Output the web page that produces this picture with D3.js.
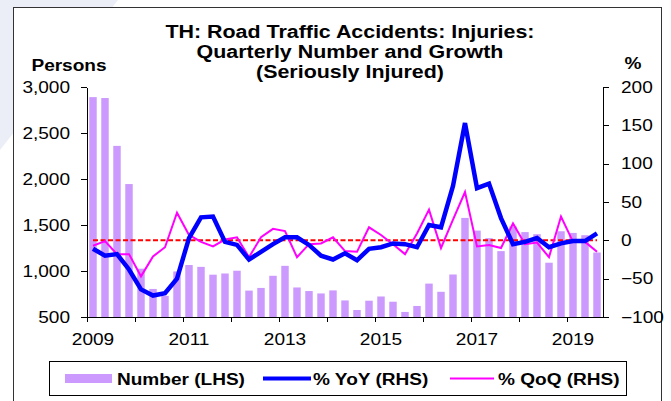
<!DOCTYPE html>
<html lang="en">
  <head>
    <meta charset="UTF-8" />
    <title>TH: Road Traffic Accidents: Injuries</title>
    <script src="https://cdnjs.cloudflare.com/ajax/libs/d3/7.8.5/d3.min.js"></script>
    <style>
      body {
        margin: 0;
        background: #fff;
      }
      svg text {
        font-family: "Liberation Sans", Arial, sans-serif;
        fill: #000;
      }
      .axis path,
      .axis line {
        stroke: #000;
        shape-rendering: crispEdges;
      }
    </style>
  </head>
  <body>
    <div id="chart"></div>
    <script>
      // Quarters 2009Q1 .. 2019Q3
      const quarters = [];
      for (let y = 2009; y <= 2019; y++) {
        for (let q = 1; q <= 4; q++) {
          if (y === 2019 && q === 4) break;
          quarters.push(y + "Q" + q);
        }
      }

      // Number of seriously injured persons (LHS)
      const numberLHS = [
        2890, 2880, 2360, 1945, 1025, 805, 730, 995, 1065, 1045, 960, 973,
        1003, 787, 816, 948, 1056, 821, 782, 756, 789, 680, 576, 677, 723, 666,
        555, 620, 863, 774, 962, 1577, 1439, 1357, 1216, 1485, 1423, 1400,
        1090, 1432, 1414, 1389, 1201,
      ];

      // % YoY (RHS)
      const yoyRHS = [
        -11, -20, -18, -38, -64, -72, -69, -50, 3, 30, 31, -2, -6, -25, -15,
        -5, 4, 4, -6, -20, -25, -17, -26, -11, -9, -4, -5, -9, 20, 17, 71, 153,
        68, 74, 29, -5, -2, 3, -9, -4, -1, -1, 9,
      ];

      // % QoQ (RHS)
      const qoqRHS = [
        -7, -1, -18, -18, -47, -21, -9, 36, 7, -2, -8, 1, 4, -22, 4, 15, 12,
        -22, -5, -4, 4, -14, -15, 17, 7, -5, -18, 9, 40, -10, 27, 63, -8, -6,
        -10, 22, -5, -3, -22, 31, -2, -2, -15,
      ];

      const leftTicks = [500, 1000, 1500, 2000, 2500, 3000];
      const rightTicks = [-100, -50, 0, 50, 100, 150, 200];
      const yearLabels = [2009, 2011, 2013, 2015, 2017, 2019];
      const titleLines = [
        "TH: Road Traffic Accidents: Injuries:",
        "Quarterly Number and Growth",
        "(Seriously Injured)",
      ];

      const width = 671;
      const height = 401;
      const plot = { left: 87, right: 603, top: 87, bottom: 317 };
      const textStretch = 1.19; // the original type is set wide

      const svg = d3
        .select("#chart")
        .append("svg")
        .attr("width", width)
        .attr("height", height);

      // faint backdrop shape outside the frame
      svg
        .append("polygon")
        .attr("points", "0,0 118,0 0,150")
        .attr("fill", "#eceef7");

      // outer frame
      svg
        .append("rect")
        .attr("x", 13.5)
        .attr("y", 7.5)
        .attr("width", 648)
        .attr("height", 400)
        .attr("fill", "#fff")
        .attr("stroke", "#333")
        .attr("stroke-width", 1);

      // scales
      const x = d3
        .scaleBand()
        .domain(quarters)
        .range([plot.left, plot.right])
        .paddingInner(0.38)
        .paddingOuter(0.19);
      const xIdx = d3
        .scaleLinear()
        .domain([0, quarters.length])
        .range([plot.left, plot.right]);
      const xc = (i) => x(quarters[i]) + x.bandwidth() / 2;

      const yL = d3
        .scaleLinear()
        .domain([500, 3000])
        .range([plot.bottom, plot.top]);
      const yR = d3
        .scaleLinear()
        .domain([-100, 200])
        .range([plot.bottom, plot.top]);

      // bars
      svg
        .append("g")
        .selectAll("rect")
        .data(numberLHS)
        .join("rect")
        .attr("x", (d, i) => x(quarters[i]))
        .attr("y", (d) => yL(d))
        .attr("width", x.bandwidth())
        .attr("height", (d) => yL(500) - yL(d))
        .attr("fill", "#cc99ff");

      // zero reference line
      svg
        .append("line")
        .attr("x1", xc(0))
        .attr("x2", xc(quarters.length - 1))
        .attr("y1", yR(0))
        .attr("y2", yR(0))
        .attr("stroke", "#ff0000")
        .attr("stroke-width", 2)
        .attr("stroke-dasharray", "5,2.5");

      const line = d3
        .line()
        .x((d, i) => xc(i))
        .y((d) => yR(d));

      svg
        .append("path")
        .datum(qoqRHS)
        .attr("d", line)
        .attr("fill", "none")
        .attr("stroke", "#ff00ff")
        .attr("stroke-width", 2);

      svg
        .append("path")
        .datum(yoyRHS)
        .attr("d", line)
        .attr("fill", "none")
        .attr("stroke", "#0000ff")
        .attr("stroke-width", 4.5)
        .attr("stroke-linejoin", "miter");

      // left axis
      svg
        .append("g")
        .attr("class", "axis")
        .attr("transform", `translate(${plot.left},0)`)
        .call(
          d3
            .axisLeft(yL)
            .tickValues(leftTicks)
            .tickFormat(d3.format(","))
            .tickSize(6)
            .tickSizeOuter(0)
            .tickPadding(11)
        )
        .call((g) => g.selectAll("text").style("font-size", "16px"));

      // right axis
      svg
        .append("g")
        .attr("class", "axis")
        .attr("transform", `translate(${plot.right},0)`)
        .call(
          d3
            .axisRight(yR)
            .tickValues(rightTicks)
            .tickSize(6)
            .tickSizeOuter(0)
            .tickPadding(12)
        )
        .call((g) => g.selectAll("text").style("font-size", "16px"));

      // bottom axis: yearly ticks at quarter boundaries
      svg
        .append("g")
        .attr("class", "axis")
        .attr("transform", `translate(0,${plot.bottom})`)
        .call(
          d3
            .axisBottom(xIdx)
            .tickValues(d3.range(0, quarters.length, 4))
            .tickFormat("")
            .tickSize(5)
            .tickSizeOuter(0)
        );

      // year labels centred on Q1 of odd years
      svg
        .append("g")
        .selectAll("text")
        .data(yearLabels)
        .join("text")
        .attr("x", (d) => xc(quarters.indexOf(d + "Q1")))
        .attr("y", 345)
        .attr("text-anchor", "middle")
        .style("font-size", "16px")
        .text((d) => d);

      // titles
      svg
        .append("g")
        .selectAll("text")
        .data(titleLines)
        .join("text")
        .attr("x", 350)
        .attr("y", (d, i) => 38 + i * 20)
        .attr("text-anchor", "middle")
        .style("font-size", "18px")
        .style("font-weight", "bold")
        .text((d) => d);

      svg
        .append("text")
        .attr("x", 69)
        .attr("y", 71)
        .attr("text-anchor", "middle")
        .style("font-size", "16px")
        .style("font-weight", "bold")
        .text("Persons");

      svg
        .append("text")
        .attr("x", 633)
        .attr("y", 69)
        .attr("text-anchor", "middle")
        .style("font-size", "16px")
        .style("font-weight", "bold")
        .text("%");

      // legend
      const legend = svg.append("g");
      legend
        .append("rect")
        .attr("x", 49.5)
        .attr("y", 361.5)
        .attr("width", 577)
        .attr("height", 34)
        .attr("fill", "#fff")
        .attr("stroke", "#000");
      legend
        .append("rect")
        .attr("x", 65)
        .attr("y", 374)
        .attr("width", 47)
        .attr("height", 9)
        .attr("fill", "#cc99ff");
      legend
        .append("line")
        .attr("x1", 263)
        .attr("x2", 311)
        .attr("y1", 378.5)
        .attr("y2", 378.5)
        .attr("stroke", "#0000ff")
        .attr("stroke-width", 4);
      legend
        .append("line")
        .attr("x1", 450)
        .attr("x2", 494)
        .attr("y1", 378.5)
        .attr("y2", 378.5)
        .attr("stroke", "#ff00ff")
        .attr("stroke-width", 2);
      const legendText = [
        { x: 117, label: "Number (LHS)" },
        { x: 313, label: "% YoY (RHS)" },
        { x: 498, label: "% QoQ (RHS)" },
      ];
      legend
        .selectAll("text")
        .data(legendText)
        .join("text")
        .attr("x", (d) => d.x)
        .attr("y", 385)
        .style("font-size", "16px")
        .style("font-weight", "bold")
        .text((d) => d.label);

      // widen every label horizontally, keeping its anchor point in place
      svg.selectAll("text").each(function () {
        const t = d3.select(this);
        const x0 = +t.attr("x") || 0;
        t.attr("x", x0 / textStretch).attr(
          "transform",
          `scale(${textStretch},1)`
        );
      });
    </script>
  </body>
</html>
